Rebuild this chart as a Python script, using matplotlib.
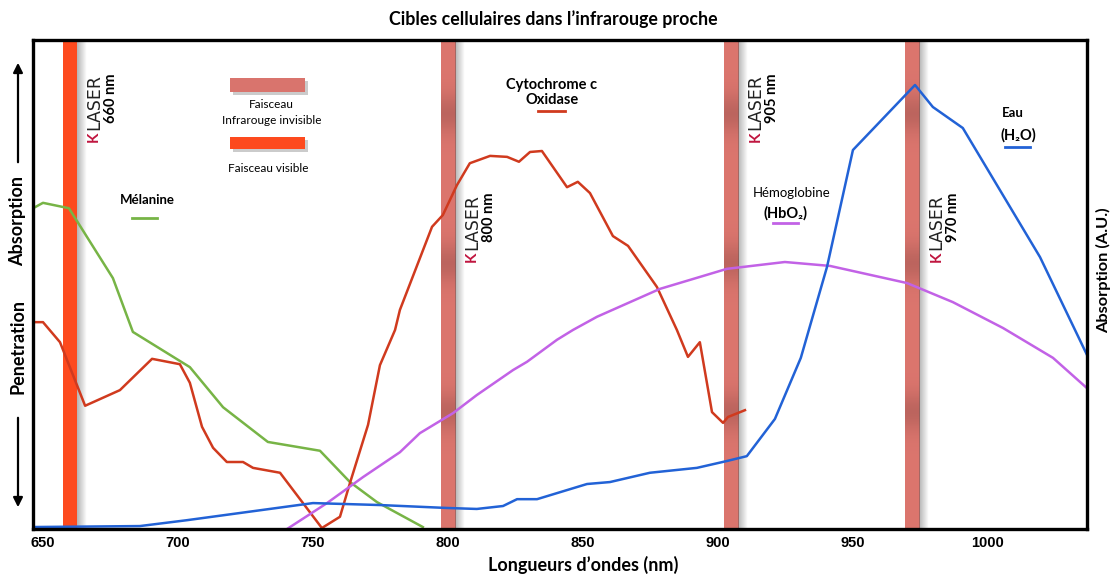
"""Cibles cellulaires dans l'infrarouge proche: absorption spectra with laser bands."""

import matplotlib

matplotlib.use("Agg")

import matplotlib.pyplot as plt
import numpy as np
from matplotlib.lines import Line2D
from matplotlib.patches import Rectangle
from matplotlib.transforms import offset_copy

W, H = 1115, 574

# --- data (wavelength in nm, absorption in arbitrary units 0-100) ---
melanin_nm = [647.0, 650.0, 659.6, 675.9, 683.3, 704.4, 716.7, 733.3, 752.6,
              763.7, 773.7, 790.7]
melanin_abs = [65.8, 66.7, 65.6, 51.3, 40.3, 33.1, 24.9, 17.8, 16.0, 9.6,
               5.5, 0.4]

cco_nm = [646.3, 650.0, 656.3, 665.6, 678.5, 690.4, 700.7, 704.4, 708.9, 713.0,
          718.1, 724.1, 727.8, 737.8, 753.3, 760.0, 763.7, 770.4, 774.8, 780.4,
          782.2, 794.1, 798.1, 803.3, 808.1, 815.6, 821.9, 826.3, 830.4, 834.8,
          844.1, 848.1, 852.6, 861.1, 866.7, 877.4, 884.8, 888.9, 893.3, 897.8,
          901.9, 903.7, 910.0]
cco_abs = [42.3, 42.3, 38.2, 25.2, 28.4, 34.8, 33.7, 29.9, 20.9, 16.6,
           13.7, 13.7, 12.5, 11.5, 0.2, 2.5, 9.4, 21.3, 33.5, 40.7,
           44.8, 61.8, 64.2, 70.3, 74.8, 76.3, 76.1, 75.1, 77.1, 77.3,
           69.9, 71.0, 68.7, 59.9, 57.9, 49.5, 40.7, 35.2, 38.2, 23.9,
           21.7, 22.9, 24.3]

water_nm = [646.3, 685.9, 703.3, 750.0, 774.8, 799.6, 810.7, 820.4, 825.6,
            833.0, 851.5, 860.0, 874.8, 892.2, 903.3, 910.7, 921.1, 930.7,
            940.4, 950.0, 973.0, 979.6, 990.7, 1019.3, 1036.7]
water_abs = [0.4, 0.6, 1.8, 5.3, 4.9, 4.3, 4.1, 4.7, 6.1, 6.1, 9.2, 9.6, 11.5,
             12.5, 13.9, 14.9, 22.5, 35.0, 53.6, 77.5, 90.8, 86.3, 82.0, 55.6,
             35.6]

hbo2_nm = [740.4, 755.2, 768.5, 782.2, 789.6, 801.9, 810.7, 824.1, 829.3,
           840.4, 846.3, 855.2, 878.5, 903.3, 924.8, 941.5, 970.0, 987.0,
           1005.6, 1024.1, 1036.7]
hbo2_abs = [0.0, 5.3, 10.6, 15.7, 19.6, 23.7, 27.4, 32.5, 34.2, 38.7, 40.7,
            43.4, 49.1, 53.2, 54.6, 53.8, 50.3, 46.4, 41.1, 35.0, 28.8]

laser_nm = [660, 800, 905, 972]
laser_labels = ["660 nm", "800 nm", "905 nm", "970 nm"]
laser_visible = [True, False, False, False]
x_ticks = [650, 700, 750, 800, 850, 900, 950, 1000]

GREEN = "#77b446"
RED = "#d03a1e"
BLUE = "#2262d6"
PURPLE = "#c262e6"
VISIBLE = "#fd4a1e"
IR_BAND = np.array([0.86, 0.46, 0.43])
CRIMSON = "#c0153f"
FONT = ["Lato", "DejaVu Sans"]


def main() -> None:
    fig = plt.figure(figsize=(W / 100, H / 100), dpi=100)
    ax = fig.add_axes([33 / W, 1 - 529 / H, (1087 - 33) / W, (529 - 40) / H])

    for center, visible, label, k in zip(laser_nm, laser_visible,
                                         laser_labels, range(4)):
        _draw_band(ax, center, visible)
        _laser_label(fig, ax, center, label, high=(k % 2 == 0))

    ax.plot(melanin_nm, melanin_abs, color=GREEN, lw=1.8, zorder=3)
    ax.plot(cco_nm, cco_abs, color=RED, lw=1.8, zorder=3)
    ax.plot(hbo2_nm, hbo2_abs, color=PURPLE, lw=1.8, zorder=3)
    ax.plot(water_nm, water_abs, color=BLUE, lw=1.8, zorder=3)

    ax.set_xlim(646.3, 1036.7)
    ax.set_ylim(0, 100)
    ax.set_xticks(x_ticks)
    ax.set_yticks([])
    ax.tick_params(axis="x", length=0, pad=5)
    for lab in ax.get_xticklabels():
        lab.set_fontfamily("Liberation Sans")
        lab.set_fontsize(10.5)
        lab.set_fontweight("bold")
    for spine in ax.spines.values():
        spine.set_linewidth(2.4)
        spine.set_color("black")
        spine.set_zorder(5)

    # titles
    _txt(fig, 553, 19, "Cibles cellulaires dans l\u2019infrarouge proche", 12.8)
    _txt(fig, 583, 565, "Longueurs d\u2019ondes (nm)", 13)
    _txt(fig, 18, 221, "Absorption", 13, rotation=90)
    _txt(fig, 18, 346, "Penetration", 13, rotation=90)
    _txt(fig, 1104, 270, "Absorption (A.U.)", 11.8, rotation=90)
    for y0, y1 in [(165, 60), (415, 510)]:
        ax.annotate("", xy=(18, H - y1), xytext=(18, H - y0),
                    xycoords="figure pixels", textcoords="figure pixels",
                    arrowprops=dict(arrowstyle="-|>", color="black", lw=1.6,
                                    mutation_scale=14))

    # beam legend
    _swatch(fig, 230, 78, 75, 14, None)
    _txt(fig, 271, 105, "Faisceau", 8.5, weight="normal")
    _txt(fig, 272, 121, "Infrarouge invisible", 8.5, weight="normal")
    _swatch(fig, 230, 137, 75, 12, VISIBLE)
    _txt(fig, 268, 168, "Faisceau visible", 8.5, weight="normal")

    # curve labels
    _txt(fig, 147, 200, "Mélanine", 9.5)
    _seg(fig, 132, 157, 218, GREEN)
    _txt(fig, 552, 85, "Cytochrome c", 10.5)
    _txt(fig, 552, 100, "Oxidase", 10.5)
    _seg(fig, 538, 565, 111, RED)
    fig.text(792 / W, 1 - 193 / H, "Hémoglobine", fontsize=9.5, family=FONT,
             ha="center", va="center",
             bbox=dict(facecolor="white", edgecolor="none", pad=2))
    _txt(fig, 785, 213, "(HbO\u2082)", 10.5)
    _seg(fig, 773, 798, 223, PURPLE)
    _txt(fig, 1013, 113, "Eau", 9.5)
    _txt(fig, 1018, 135, "(H\u2082O)", 10.5)
    _seg(fig, 1005, 1030, 147, BLUE)

    fig.savefig("out.png", dpi=100)


def _draw_band(ax, center, visible, half=2.6) -> None:
    if visible:
        ax.axvspan(center - half, center + half, color=VISIBLE, lw=0, zorder=1)
    else:
        y = np.linspace(0, 100, 400)
        shade = 1 - 0.14 * sum(np.exp(-((y - c) / 4.0) ** 2)
                               for c in (85.1, 54.4, 23.9))
        img = (IR_BAND[None, :] * shade[:, None])[:, None, :]
        ax.imshow(img, extent=(center - half, center + half, 0, 100),
                  origin="lower", aspect="auto", zorder=1)
    shadow = np.zeros((1, 24, 4))
    shadow[..., :3] = 0.35
    shadow[..., 3] = np.linspace(0.45, 0.0, 24)
    ax.imshow(shadow, extent=(center + half, center + half + 3.6, 0, 100),
              aspect="auto", zorder=1)


def _laser_label(fig, ax, center, label, high) -> None:
    k_y, nm_y = (79.1, 83.0) if high else (54.6, 58.7)
    tr_k = offset_copy(ax.transData, fig=fig, x=24, y=0, units="dots")
    tr_l = offset_copy(ax.transData, fig=fig, x=24, y=12, units="dots")
    tr_n = offset_copy(ax.transData, fig=fig, x=41, y=0, units="dots")
    ax.text(center, k_y, "K", transform=tr_k, rotation=90, color=CRIMSON,
            fontsize=11, fontweight="bold", family=FONT, ha="center",
            va="bottom", zorder=4)
    ax.text(center, k_y, "LASER", transform=tr_l, rotation=90,
            color="#222222", fontsize=12.5, family="DejaVu Sans", ha="center",
            va="bottom", zorder=4)
    ax.text(center, nm_y, label, transform=tr_n, rotation=90, color="black",
            fontsize=10.5, fontweight="bold", family=FONT, ha="center",
            va="bottom", zorder=4)


def _txt(fig, x, y, s, size, weight="bold", rotation=0) -> None:
    fig.text(x / W, 1 - y / H, s, fontsize=size, fontweight=weight,
             family=FONT, ha="center", va="center", rotation=rotation)


def _swatch(fig, x, y, w, h, color) -> None:
    fig.add_artist(Rectangle(((x + 3) / W, 1 - (y + h + 3) / H), w / W, h / H,
                             transform=fig.transFigure, color="#999999",
                             alpha=0.5, lw=0))
    fig.add_artist(Rectangle((x / W, 1 - (y + h) / H), w / W, h / H,
                             transform=fig.transFigure,
                             color=color if color else "#d9746d", lw=0))


def _seg(fig, x0, x1, y, color) -> None:
    fig.add_artist(Line2D([x0 / W, x1 / W], [1 - y / H, 1 - y / H],
                          transform=fig.transFigure, color=color, lw=2))


if __name__ == "__main__":
    main()
